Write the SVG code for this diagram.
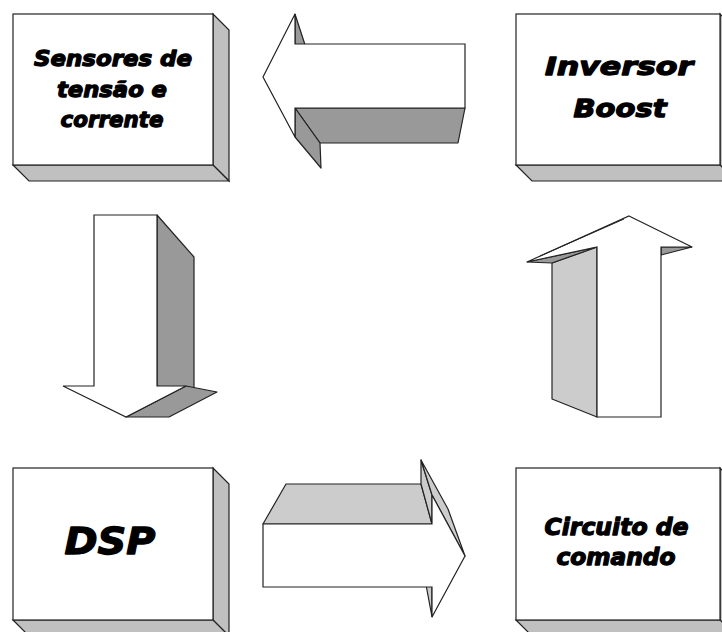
<svg xmlns="http://www.w3.org/2000/svg" width="722" height="632" viewBox="0 0 722 632">
<style>
.front{fill:#fff;stroke:#222;stroke-width:1.2;stroke-linejoin:miter}
.side{fill:#c0c0c0;stroke:#222;stroke-width:1.2}
.dark{fill:#999;stroke:#222;stroke-width:1.2;stroke-linejoin:round}
.light{fill:#ccc;stroke:#222;stroke-width:1.2;stroke-linejoin:round}
.ln{fill:none;stroke:#222;stroke-width:1}
.lbl{font-family:"DejaVu Sans","Liberation Sans",Arial,sans-serif;font-weight:bold;font-style:italic;fill:#000;stroke:#000;stroke-width:1.3;stroke-linejoin:round;text-anchor:middle}
</style>
<rect width="722" height="632" fill="#fff"/>

<g id="node-sensores">
<polygon class="side" points="213,14 229,30 229,181 213,165"/>
<polygon class="side" points="13,165 213,165 229,181 29,181"/>
<rect class="front" x="13" y="14" width="200" height="151"/>
<text class="lbl" x="113" y="65.5" font-size="22" textLength="158" lengthAdjust="spacingAndGlyphs">Sensores de</text>
<text class="lbl" x="112" y="97" font-size="22" textLength="110" lengthAdjust="spacingAndGlyphs">tensão e</text>
<text class="lbl" x="112" y="127" font-size="22" textLength="103" lengthAdjust="spacingAndGlyphs">corrente</text>
</g>

<g id="node-inversor">
<polygon class="side" points="720,14 736,30 736,181 720,165"/>
<polygon class="side" points="516,165 720,165 736,181 532,181"/>
<rect class="front" x="516" y="14" width="204" height="151"/>
<text class="lbl" x="619" y="75" font-size="25" textLength="148" lengthAdjust="spacingAndGlyphs">Inversor</text>
<text class="lbl" x="620" y="116.5" font-size="25" textLength="93" lengthAdjust="spacingAndGlyphs">Boost</text>
</g>

<g id="node-dsp">
<polygon class="side" points="213,468 229,484 229,636 213,620"/>
<polygon class="side" points="13,620 213,620 229,636 29,636"/>
<rect class="front" x="13" y="468" width="200" height="152"/>
<text class="lbl" x="110" y="554" font-size="38" textLength="91" lengthAdjust="spacingAndGlyphs">DSP</text>
</g>

<g id="node-circuito">
<polygon class="side" points="720,468 736,484 736,636 720,620"/>
<polygon class="side" points="516,620 720,620 736,636 532,636"/>
<rect class="front" x="516" y="468" width="204" height="152"/>
<text class="lbl" x="616.5" y="535" font-size="23" textLength="144" lengthAdjust="spacingAndGlyphs">Circuito de</text>
<text class="lbl" x="616" y="565" font-size="23" textLength="119" lengthAdjust="spacingAndGlyphs">comando</text>
</g>

<g id="connectors">
<g id="arrow-inversor-sensores">
<polygon class="dark" points="295,14 295,44 320,67 320,91"/>
<polygon class="dark" points="295,108 465,108 458,143 320,143"/>
<polygon class="dark" points="295,108 295,137 321,168 320,143"/>
<polygon class="front" points="263,77 295,14 295,44 465,44 465,108 295,108 295,137"/>
</g>

<g id="arrow-sensores-dsp">
<polygon class="dark" points="157,215 194,257 194,392 157,386"/>
<polygon class="dark" points="186,386 126,417 169,417 217,392"/>
<polygon class="front" points="94,215 157,215 157,386 186,386 126,417 63,386 94,386"/>
</g>

<g id="arrow-dsp-circuito">
<polygon class="light" points="263,524 286,484 421,484 432,524"/>
<polygon class="light" points="432,495 432,524 421,484 421,460"/>
<polygon class="light" points="432,495 465,556 448,509 421,460"/>
<polygon class="light" points="432,587 432,617 421,558 421,534"/>
<polygon class="front" points="263,524 432,524 432,495 465,556 432,617 432,587 263,587"/>
</g>

<g id="arrow-circuito-inversor">
<polygon class="light" points="597,247 552,263 552,399 597,417"/>
<polygon class="dark" points="527,262 597,247 552,263"/>
<polygon class="dark" points="661,247 692,247 661,255"/>
<polygon class="front" points="629,216 692,247 661,247 661,417 597,417 597,247 527,262"/>
<line class="ln" x1="624" y1="219" x2="540" y2="256"/>
</g>
</g>
</svg>
